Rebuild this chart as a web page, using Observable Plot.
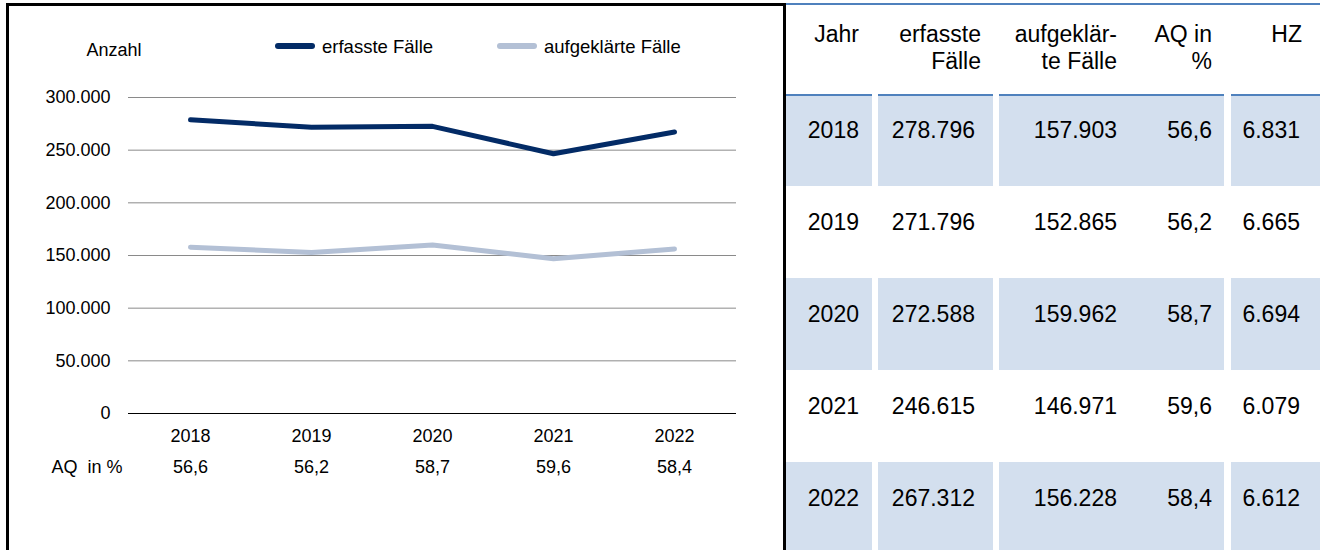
<!DOCTYPE html>
<html><head><meta charset="utf-8">
<script src="https://cdn.jsdelivr.net/npm/d3@7"></script>
<script src="https://cdn.jsdelivr.net/npm/@observablehq/plot@0.6"></script>
<style>
html,body{margin:0;padding:0;background:#fff;}
body{width:1320px;height:550px;position:relative;overflow:hidden;font-family:"Liberation Sans",Arial,sans-serif;color:#000;}
#chart{position:absolute;left:0;top:0;}
#frame{position:absolute;left:6px;top:3px;width:780px;height:560px;box-sizing:border-box;border:3px solid #000;border-bottom:none;pointer-events:none;}
.sw{position:absolute;top:43px;width:40px;height:6px;border-radius:3px;}
.lt{position:absolute;top:36px;line-height:21px;font-size:18.5px;white-space:nowrap;}
#tbl{position:absolute;left:786px;top:3px;width:534px;table-layout:fixed;border-collapse:separate;border-spacing:0;border-top:2px solid #4f81bd;font-size:23px;color:#000;}
#tbl td{padding:0;text-align:right;vertical-align:top;white-space:nowrap;}
#tbl thead td div{height:89px;box-sizing:border-box;padding-top:16px;line-height:27px;}
#tbl tbody td{border-top:2px solid transparent;}
#tbl tbody tr.first td.c{border-top-color:#4f81bd;}
#tbl tbody td div{height:90px;box-sizing:border-box;padding-top:21px;line-height:26px;}
#tbl tbody tr.shade td.c{background:#d3dfee;}
#tbl .k0 div{padding-right:13px;}
#tbl thead .k1 div{padding-right:12px;}
#tbl tbody .k1 div{padding-right:18px;}
#tbl .k2 div{padding-right:5px;}
#tbl .k3 div{padding-right:12px;}
#tbl thead .k4 div{padding-right:18px;}
#tbl tbody .k4 div{padding-right:20px;}
</style>
</head><body>
<div id="chart"></div>
<div id="legend"></div>
<div id="frame"></div>
<table id="tbl">
<colgroup><col style="width:86px"><col style="width:6px"><col style="width:115px"><col style="width:6px"><col style="width:123px"><col style="width:102px"><col style="width:7px"><col style="width:89px"></colgroup>
<thead><tr id="hdr"></tr></thead>
<tbody id="tbody"></tbody>
</table>
<script>
// ---- data ----
const years = ["2018", "2019", "2020", "2021", "2022"];
const erfasste = [278796, 271796, 272588, 246615, 267312];
const aufgeklaert = [157903, 152865, 159962, 146971, 156228];
const aqProzent = [56.6, 56.2, 58.7, 59.6, 58.4];
const hz = [6831, 6665, 6694, 6079, 6612];
const yTicks = [0, 50000, 100000, 150000, 200000, 250000, 300000];
const seriesNames = ["erfasste Fälle", "aufgeklärte Fälle"];
const seriesColors = ["#032b66", "#b3c0d5"];
const tableHeaders = [["Jahr"], ["erfasste", "Fälle"], ["aufgeklär-", "te Fälle"], ["AQ in", "%"], ["HZ"]];
const yLabel = "Anzahl";
const aqLabel = "AQ\u00a0 in %";

// ---- formatting ----
const de = d3.formatLocale({decimal: ",", thousands: ".", grouping: [3], currency: ["", " €"]});
const fmtInt = de.format(",d");
const fmtDec = de.format(",.1f");

const rows = years.map((y, i) => ({year: y, erf: erfasste[i], auf: aufgeklaert[i], aq: aqProzent[i], hz: hz[i]}));
const long = rows.flatMap(r => [
  {year: r.year, series: seriesNames[0], value: r.erf},
  {year: r.year, series: seriesNames[1], value: r.auf}
]);

// ---- chart ----
const fs = 18;
const chart = Plot.plot({
  width: 783, height: 550,
  marginLeft: 128, marginRight: 47, marginTop: 97, marginBottom: 137,
  style: {fontFamily: "Liberation Sans, Arial, sans-serif", fontSize: fs + "px", color: "#000", background: "transparent"},
  x: {type: "point", domain: years, padding: 0.5, axis: null},
  y: {domain: [0, 300000], axis: null},
  color: {domain: seriesNames, range: seriesColors},
  marks: [
    Plot.ruleY(yTicks.filter(d => d > 0), {stroke: "#8a8a8a", strokeWidth: 1}),
    Plot.ruleY([0], {stroke: "#000", strokeWidth: 1.2}),
    Plot.axisY({ticks: yTicks, tickSize: 0, tickPadding: 18, tickFormat: fmtInt, label: null, fontSize: fs}),
    Plot.line(long, {x: "year", y: "value", z: "series", stroke: "series", strokeWidth: 5, strokeLinecap: "round", strokeLinejoin: "miter"}),
    Plot.text(rows, {x: "year", text: "year", frameAnchor: "bottom", lineAnchor: "middle", dy: 23, fontSize: fs}),
    Plot.text(rows, {x: "year", text: d => fmtDec(d.aq), frameAnchor: "bottom", lineAnchor: "middle", dy: 54, fontSize: fs}),
    Plot.text([aqLabel], {text: d => d, frameAnchor: "bottom-left", lineAnchor: "middle", textAnchor: "end", dx: -6, dy: 54, fontSize: fs}),
    Plot.text([yLabel], {text: d => d, frameAnchor: "top-left", lineAnchor: "middle", textAnchor: "start", dx: -42, dy: -47, fontSize: fs})
  ]
});
document.getElementById("chart").append(chart);

// ---- legend ----
const legend = d3.select("#legend");
const legendLeft = [275, 497];
seriesNames.forEach((name, i) => {
  legend.append("div").attr("class", "sw").style("left", legendLeft[i] + "px").style("background", seriesColors[i]);
  legend.append("div").attr("class", "lt").style("left", (legendLeft[i] + 47) + "px").text(name);
});

// ---- table ----
const hdr = d3.select("#hdr");
const gapsBefore = [false, true, true, false, true];
tableHeaders.forEach((h, k) => {
  if (gapsBefore[k]) hdr.append("td");
  hdr.append("td").attr("class", "c k" + k).append("div").html(h.join("<br>"));
});
const tbody = d3.select("#tbody");
rows.forEach((r, i) => {
  const tr = tbody.append("tr").attr("class", (i === 0 ? "first " : "") + (i % 2 === 0 ? "shade" : ""));
  const vals = [r.year, fmtInt(r.erf), fmtInt(r.auf), fmtDec(r.aq), fmtInt(r.hz)];
  vals.forEach((v, k) => {
    if (gapsBefore[k]) tr.append("td");
    tr.append("td").attr("class", "c k" + k).append("div").text(v);
  });
});
</script>
</body></html>
